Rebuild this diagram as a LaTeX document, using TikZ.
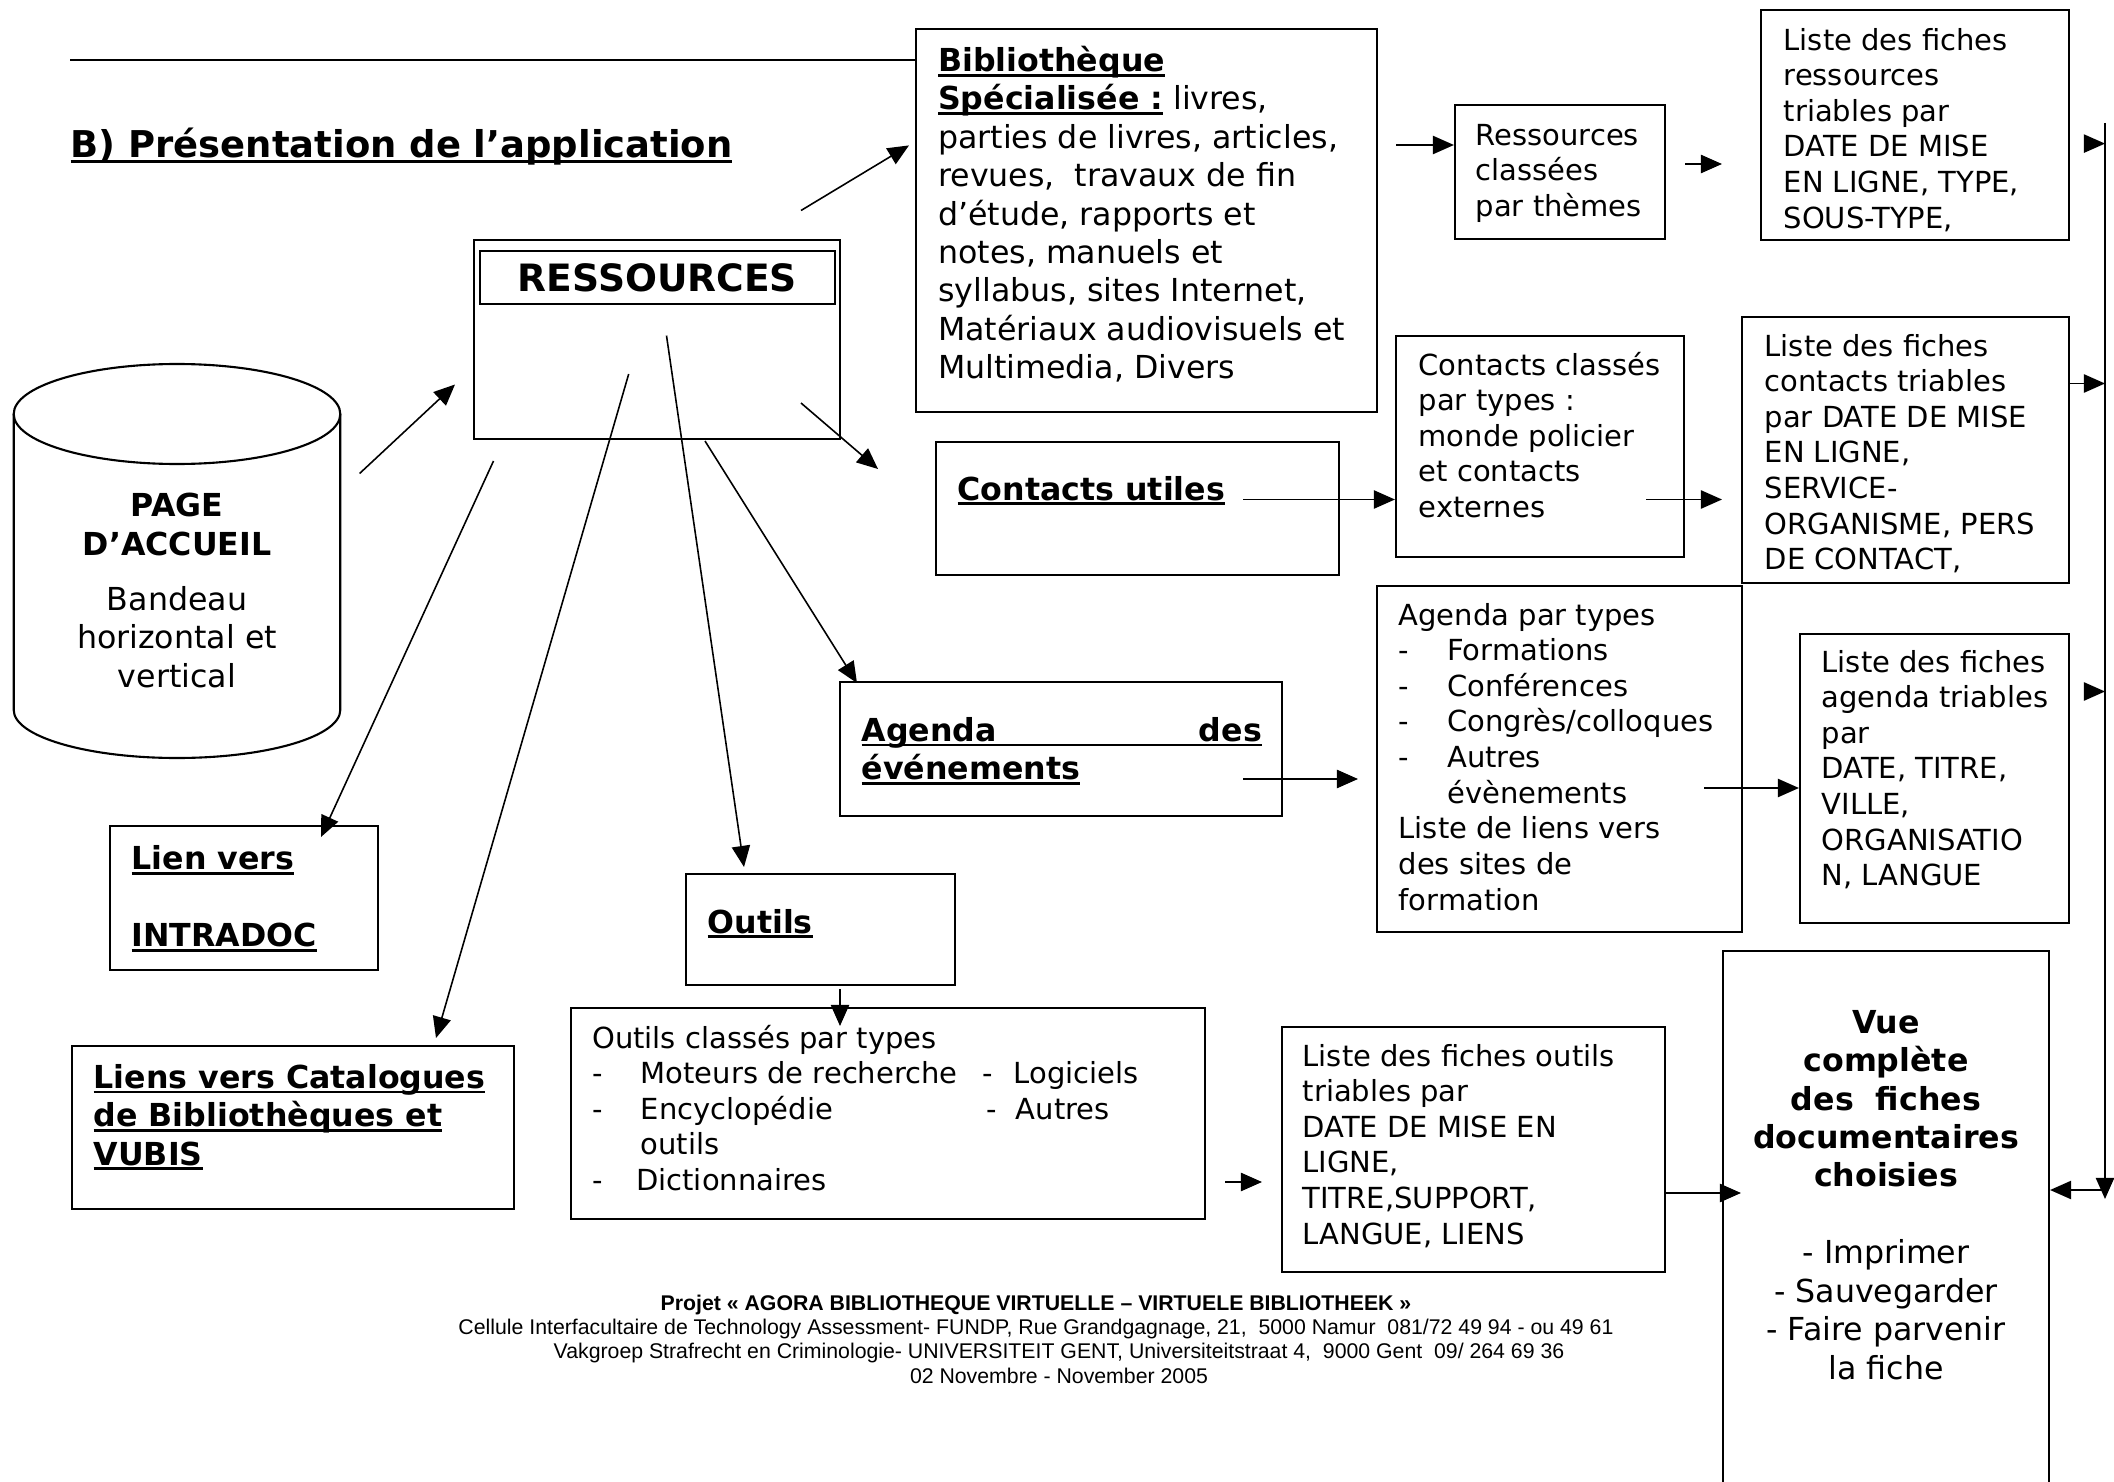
\documentclass[tikz,border=0pt]{standalone}
\usepackage{fontspec}
\setmainfont{DejaVu Sans}
\newfontfamily\footfont{Liberation Sans}
\usetikzlibrary{arrows.meta,fit}

% bold underlined text
\newcommand{\ubf}[1]{\setbox0=\hbox{\bfseries #1}\rlap{\rule[-1.5pt]{\wd0}{0.8pt}}\box0}
% dash item
\newcommand{\dashit}[1]{\makebox[0.485cm][l]{-}#1}

\tikzset{
  box/.style={draw, line width=0.6pt, inner sep=0pt},
  txt/.style={inner sep=0pt, anchor=base west, align=left, font=\fontsize{9}{10.92}\selectfont},
  small/.style={txt, font=\fontsize{8.25}{10.13}\selectfont},
  link/.style={->, line width=0.45pt},
}

\begin{document}
\begin{tikzpicture}[x=0.01cm, y=-0.01cm, >={Triangle[length=6pt,width=5.2pt]}]
  \useasboundingbox (0,0) rectangle (2114,1482);

  % Boxes
  \foreach \nom/\xa/\ya/\xb/\yb in {
      ress/474/240/840/439, resstitre/480/251/835/304,
      biblio/916/29/1377/412, contacts/936/442/1339/575,
      agenda/840/682/1282/816, outils/686/874/955/985,
      outcl/571/1008/1205/1219, intradoc/110/826/378/970,
      catal/72/1046/514/1209, resscl/1455/105/1665/239,
      lstress/1761/10/2069/240, ctcl/1396/336/1684/557,
      lstct/1742/317/2069/583, agtypes/1377/586/1742/932,
      lstag/1800/634/2069/923, lstout/1282/1027/1665/1272,
      vue/1723/951/2049/1520} {
    \node[box, fit={(\xa,\ya) (\xb,\yb)}] (\nom) {};
  }

  % Title
  \draw[line width=0.4pt] (70,60) -- (biblio.west |- 0,60);
  \node[txt, font=\fontsize{10.5}{12}\selectfont] (titre) at (70,158) {\ubf{B) Présentation de l’application}};

  % Page d'accueil (texts anchored on their last line)
  \draw[line width=0.6pt] (13.7,414) -- (13.7,710)
    .. controls (13.7,736.5) and (86.8,758) .. (177,758)
    .. controls (267.2,758) and (340.3,736.5) .. (340.3,710) -- (340.3,414);
  \draw[line width=0.6pt] (177,414) ellipse [x radius=163.3, y radius=50];
  \node[txt, align=center, anchor=base] (accueil) at (177,687)
    {\textbf{PAGE}\\\textbf{D’ACCUEIL}\\[0.165cm]Bandeau\\horizontal et\\vertical};

  % Texts
  \node[inner sep=0pt, font=\fontsize{10.7}{12}\selectfont\bfseries] (resstxt) at (resstitre) {RESSOURCES};
  \node[txt] (bibliotxt) at (937.5,378.7) {\ubf{Bibliothèque}\\\ubf{Spécialisée :}\ livres,\\parties de livres, articles,\\revues,~ travaux de fin\\d’étude, rapports et\\notes, manuels et\\syllabus, sites Internet,\\Matériaux audiovisuels et\\Multimedia, Divers};
  \node[txt] (contactstxt) at (957,500) {\ubf{Contacts utiles}};
  \node[txt] (agendatxt) at (861,779.5) {\ubf{\makebox[4cm][s]{Agenda des}}\\\ubf{événements}};
  \node[txt] (outilstxt) at (707,933) {\ubf{Outils}};
  \node[txt] (intradoctxt) at (131,946.5) {\ubf{Lien vers}\\[0.385cm]\ubf{INTRADOC}};
  \node[txt] (cataltxt) at (93,1165) {\ubf{Liens vers Catalogues}\\\ubf{de Bibliothèques et}\\\ubf{VUBIS}};
  \node[small] (outcltxt) at (591.5,1190.6) {Outils classés par types\\
    \makebox[0.485cm][l]{-}\makebox[3.42cm][l]{Moteurs de recherche}\makebox[0.31cm][l]{-}Logiciels\\
    \makebox[0.485cm][l]{-}\makebox[3.46cm][l]{Encyclopédie}\makebox[0.29cm][l]{-}Autres\\
    \hspace*{0.485cm}outils\\
    \makebox[0.44cm][l]{-}Dictionnaires};
  \node[small] (rescltxt) at (1475,216.3) {Ressources\\classées\\par thèmes};
  \node[small] (lstresstxt) at (1783,228.2) {Liste des fiches\\ressources\\triables par\\DATE DE MISE\\EN LIGNE, TYPE,\\SOUS-TYPE,};
  \node[small] (ctcltxt) at (1418,517.6) {Contacts classés\\par types :\\monde policier\\et contacts\\externes};
  \node[small] (lstcttxt) at (1764,569.8) {Liste des fiches\\contacts triables\\par DATE DE MISE\\EN LIGNE,\\SERVICE-\\ORGANISME, PERS\\DE CONTACT,};
  \node[small] (agtypestxt) at (1398,910.1) {Agenda par types\\\dashit{Formations}\\\dashit{Conférences}\\\dashit{Congrès/colloques}\\\dashit{Autres}\\\hspace*{0.485cm}évènements\\Liste de liens vers\\des sites de\\formation};
  \node[small] (lstagtxt) at (1821,885.8) {Liste des fiches\\agenda triables\\par\\DATE, TITRE,\\VILLE,\\ORGANISATIO\\N, LANGUE};
  \node[small] (lstouttxt) at (1302,1244.2) {Liste des fiches outils\\triables par\\DATE DE MISE EN\\LIGNE,\\TITRE,SUPPORT,\\LANGUE, LIENS};
  \node[txt, align=center, anchor=base] (vuetxt) at (1886,1379)
    {\textbf{Vue}\\\textbf{complète}\\\textbf{des~ fiches}\\\textbf{documentaires}\\\textbf{choisies}\\[0.385cm]- Imprimer\\- Sauvegarder\\- Faire parvenir\\la fiche};

  % Footer
  \node[inner sep=0pt, anchor=base, align=center, font=\footfont\fontsize{6.05}{6.95}\selectfont] (pied1) at (1036,1334.5)
    {\textbf{Projet « AGORA BIBLIOTHEQUE VIRTUELLE – VIRTUELE BIBLIOTHEEK »}\\Cellule Interfacultaire de Technology Assessment- FUNDP, Rue Grandgagnage, 21,~ 5000 Namur~ 081/72 49 94 - ou 49 61};
  \node[inner sep=0pt, anchor=base, align=center, font=\footfont\fontsize{6.05}{6.95}\selectfont] (pied2) at (1059,1383)
    {Vakgroep Strafrecht en Criminologie- UNIVERSITEIT GENT, Universiteitstraat 4,~ 9000 Gent~ 09/ 264 69 36\\02 Novembre - November 2005};

  % Arrow ends
  \coordinate (accDep) at (359.6,473.5);  \coordinate (ressArr) at (455,384.5);
  \coordinate (bibDep) at (801,210.5);    \coordinate (bibArr) at (909,145.4);
  \coordinate (ctDep) at (801,403);       \coordinate (ctArr) at (878,469);
  \coordinate (agDep) at (705,441);       \coordinate (agArr) at (857,683);
  \coordinate (outDep) at (666.5,335.6);  \coordinate (outArr) at (744,867);
  \coordinate (catDep) at (628.7,374);    \coordinate (catArr) at (436,1038);
  \coordinate (intDep) at (493.5,461);    \coordinate (intArr) at (321,837);
  \coordinate (rcSort) at (1685,164);     \coordinate (rcArr) at (1722,164);
  \coordinate (ccSort) at (1646,499.5);   \coordinate (ccArr) at (1722,499.5);
  \coordinate (aeSort) at (1243,779);     \coordinate (aeArr) at (1358,779);
  \coordinate (olSort) at (840,989);      \coordinate (olArr) at (840,1026);
  \coordinate (ocSort) at (1225,1182);    \coordinate (ocArr) at (1262,1182);
  \coordinate (lrSort) at (2084,143.6);   \coordinate (laSort) at (2084,691.5);
  \coordinate (bibSort) at (1396,145);    \coordinate (cuSort) at (1243,499.5);
  \coordinate (apSort) at (1704,788);     \coordinate (vueArr) at (1741,1193);
  \coordinate (vHaut) at (2105,123);      \coordinate (vBas) at (2105,1199);
  \coordinate (lcArr) at (2105,383.5);    \coordinate (vJonc) at (2105,1190);

  % Arrows
  \foreach \a/\b in {accDep/ressArr, bibDep/bibArr, ctDep/ctArr, agDep/agArr,
                     outDep/outArr, catDep/catArr, intDep/intArr, rcSort/rcArr,
                     ccSort/ccArr, aeSort/aeArr, olSort/olArr, ocSort/ocArr,
                     vHaut/vBas, vJonc/vue.east |- vJonc} {
    \draw[link] (\a) -- (\b);
  }
  \draw[link] (bibSort) -- (resscl.west |- bibSort);
  \draw[link] (cuSort) -- (ctcl.west |- cuSort);
  \draw[link] (apSort) -- (lstag.west |- apSort);
  \draw[link] (lstout.east |- vueArr) -- (vueArr);
  \draw[link] (lrSort) -- (vHaut |- lrSort);
  \draw[link] (lstct.east |- lcArr) -- (lcArr);
  \draw[link] (laSort) -- (vHaut |- laSort);

\end{tikzpicture}
\end{document}
